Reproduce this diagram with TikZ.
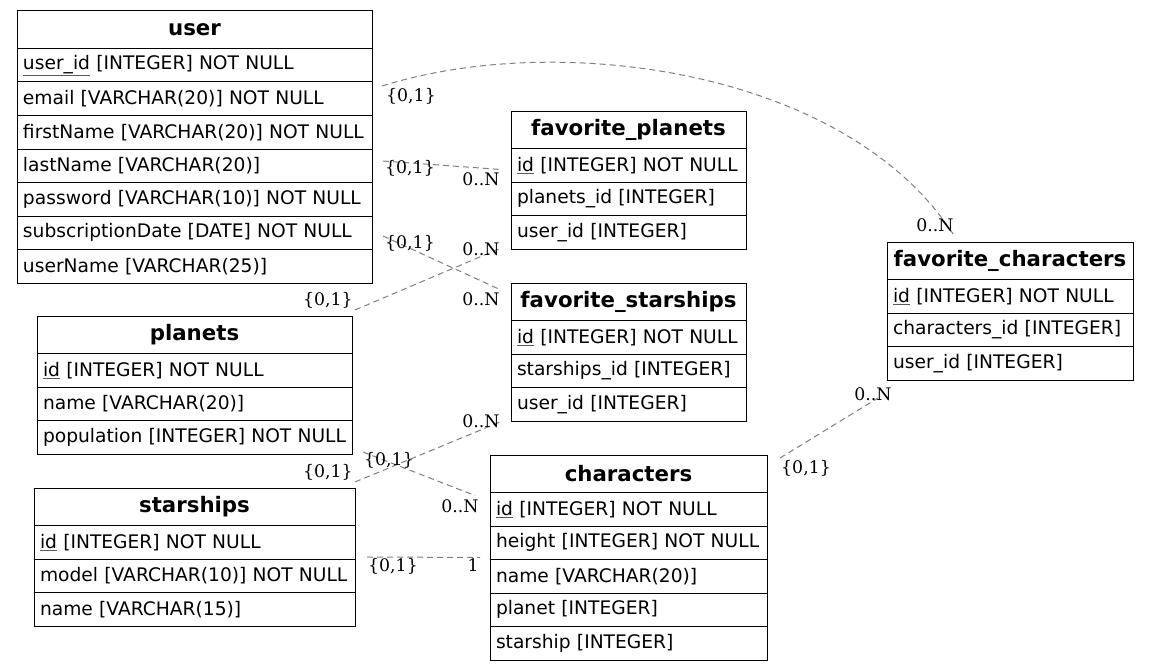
\documentclass[tikz,border=0pt]{standalone}
\usepackage{fontspec}
\setmainfont{DejaVu Serif}
\newfontfamily\dejavu{DejaVu Sans}
\newcommand\pkey[1]{\rlap{\textcolor{black!65}{\underline{\phantom{#1}}}}#1}
\begin{document}
\begin{tikzpicture}[x=1pt,y=-1pt,
  hdr/.style={draw, line width=1pt, anchor=north west, outer sep=0pt, minimum height=37.5pt, inner sep=0pt, font=\dejavu\bfseries\fontsize{21.3}{24}\selectfont},
  fld/.style={draw, line width=1pt, anchor=north west, outer sep=0pt, minimum height=33.5pt, inner xsep=6pt, inner ysep=0pt, align=left, font=\dejavu\fontsize{18.67}{22}\selectfont},
  rel/.style={draw=gray, line width=1pt, dash pattern=on 6pt off 4pt},
  card/.style={font=\fontsize{17.3}{20}\selectfont, inner sep=0pt}]
\useasboundingbox[fill=white] (0,0) rectangle (1149,669);

% user
\node[hdr, minimum width=355] (user-h) at (17,11) {user};
\node[fld, text width=343] (user-1) at (user-h.south west) {\pkey{user\_id} [INTEGER] NOT NULL};
\node[fld, text width=343] (user-2) at (user-1.south west) {email [VARCHAR(20)] NOT NULL};
\node[fld, text width=343] (user-3) at (user-2.south west) {firstName [VARCHAR(20)] NOT NULL};
\node[fld, text width=343] (user-4) at (user-3.south west) {lastName [VARCHAR(20)]};
\node[fld, text width=343] (user-5) at (user-4.south west) {password [VARCHAR(10)] NOT NULL};
\node[fld, text width=343] (user-6) at (user-5.south west) {subscriptionDate [DATE] NOT NULL};
\node[fld, text width=343] (user-7) at (user-6.south west) {userName [VARCHAR(25)]};

% favorite_planets
\node[hdr, minimum width=235] (fp-h) at (511,111) {favorite\_planets};
\node[fld, text width=223] (fp-1) at (fp-h.south west) {\pkey{id} [INTEGER] NOT NULL};
\node[fld, text width=223] (fp-2) at (fp-1.south west) {planets\_id [INTEGER]};
\node[fld, text width=223] (fp-3) at (fp-2.south west) {user\_id [INTEGER]};

% favorite_starships
\node[hdr, minimum width=235] (fs-h) at (511,283) {favorite\_starships};
\node[fld, text width=223] (fs-1) at (fs-h.south west) {\pkey{id} [INTEGER] NOT NULL};
\node[fld, text width=223] (fs-2) at (fs-1.south west) {starships\_id [INTEGER]};
\node[fld, text width=223] (fs-3) at (fs-2.south west) {user\_id [INTEGER]};

% favorite_characters
\node[hdr, minimum width=246] (fc-h) at (887,242) {favorite\_characters};
\node[fld, text width=234] (fc-1) at (fc-h.south west) {\pkey{id} [INTEGER] NOT NULL};
\node[fld, text width=234] (fc-2) at (fc-1.south west) {characters\_id [INTEGER]};
\node[fld, text width=234] (fc-3) at (fc-2.south west) {user\_id [INTEGER]};

% planets
\node[hdr, minimum width=315] (pl-h) at (37,316) {planets};
\node[fld, text width=303] (pl-1) at (pl-h.south west) {\pkey{id} [INTEGER] NOT NULL};
\node[fld, text width=303] (pl-2) at (pl-1.south west) {name [VARCHAR(20)]};
\node[fld, text width=303] (pl-3) at (pl-2.south west) {population [INTEGER] NOT NULL};

% starships
\node[hdr, minimum width=321] (st-h) at (34,488) {starships};
\node[fld, text width=309] (st-1) at (st-h.south west) {\pkey{id} [INTEGER] NOT NULL};
\node[fld, text width=309] (st-2) at (st-1.south west) {model [VARCHAR(10)] NOT NULL};
\node[fld, text width=309] (st-3) at (st-2.south west) {name [VARCHAR(15)]};

% characters
\node[hdr, minimum width=277] (ch-h) at (490,455) {characters};
\node[fld, text width=265] (ch-1) at (ch-h.south west) {\pkey{id} [INTEGER] NOT NULL};
\node[fld, text width=265] (ch-2) at (ch-1.south west) {height [INTEGER] NOT NULL};
\node[fld, text width=265] (ch-3) at (ch-2.south west) {name [VARCHAR(20)]};
\node[fld, text width=265] (ch-4) at (ch-3.south west) {planet [INTEGER]};
\node[fld, text width=265] (ch-5) at (ch-4.south west) {starship [INTEGER]};

% connectors
\draw[rel] ([shift={(10,4)}]user-2.north east) .. controls (560,30) and (850,70) .. ([shift={(68,-5)}]fc-h.north west);
\draw[rel] ([shift={(11,12)}]user-4.north east) -- ([shift={(-10,21)}]fp-1.north west);
\draw[rel] ([shift={(11,20)}]user-6.north east) -- ([shift={(-10,7)}]fs-h.north west);
\draw[rel] ([shift={(3,-6)}]pl-h.north east) -- ([shift={(-10,-1)}]fp-3.south west);
\draw[rel] ([shift={(11,-2)}]pl-3.south east) -- ([shift={(-15,3)}]ch-1.north west);
\draw[rel] ([shift={(0,-6)}]st-h.north east) -- ([shift={(-11,1)}]fs-3.south west);
\draw[rel] ([shift={(12,-2)}]st-2.north east) -- ([shift={(-10,-2)}]ch-2.south west);
\draw[rel] ([shift={(13,3)}]ch-h.north east) -- ([shift={(-9,18)}]fc-3.south west);

% cardinalities
\node[card] (c1a) at (411,96) {\{0,1\}};
\node[card] (c1b) at (935,225) {0..N};
\node[card] (c2a) at (410,168) {\{0,1\}};
\node[card] (c2b) at (481,179) {0..N};
\node[card] (c3a) at (410,243) {\{0,1\}};
\node[card] (c3b) at (481,299) {0..N};
\node[card] (c4a) at (328,300) {\{0,1\}};
\node[card] (c4b) at (481,249) {0..N};
\node[card] (c5a) at (389,460) {\{0,1\}};
\node[card] (c5b) at (460,506) {0..N};
\node[card] (c6a) at (328,472) {\{0,1\}};
\node[card] (c6b) at (481,421) {0..N};
\node[card] (c7a) at (393,566) {\{0,1\}};
\node[card] (c7b) at (473,565) {1};
\node[card] (c8a) at (806,468) {\{0,1\}};
\node[card] (c8b) at (873,394) {0..N};
\end{tikzpicture}
\end{document}
